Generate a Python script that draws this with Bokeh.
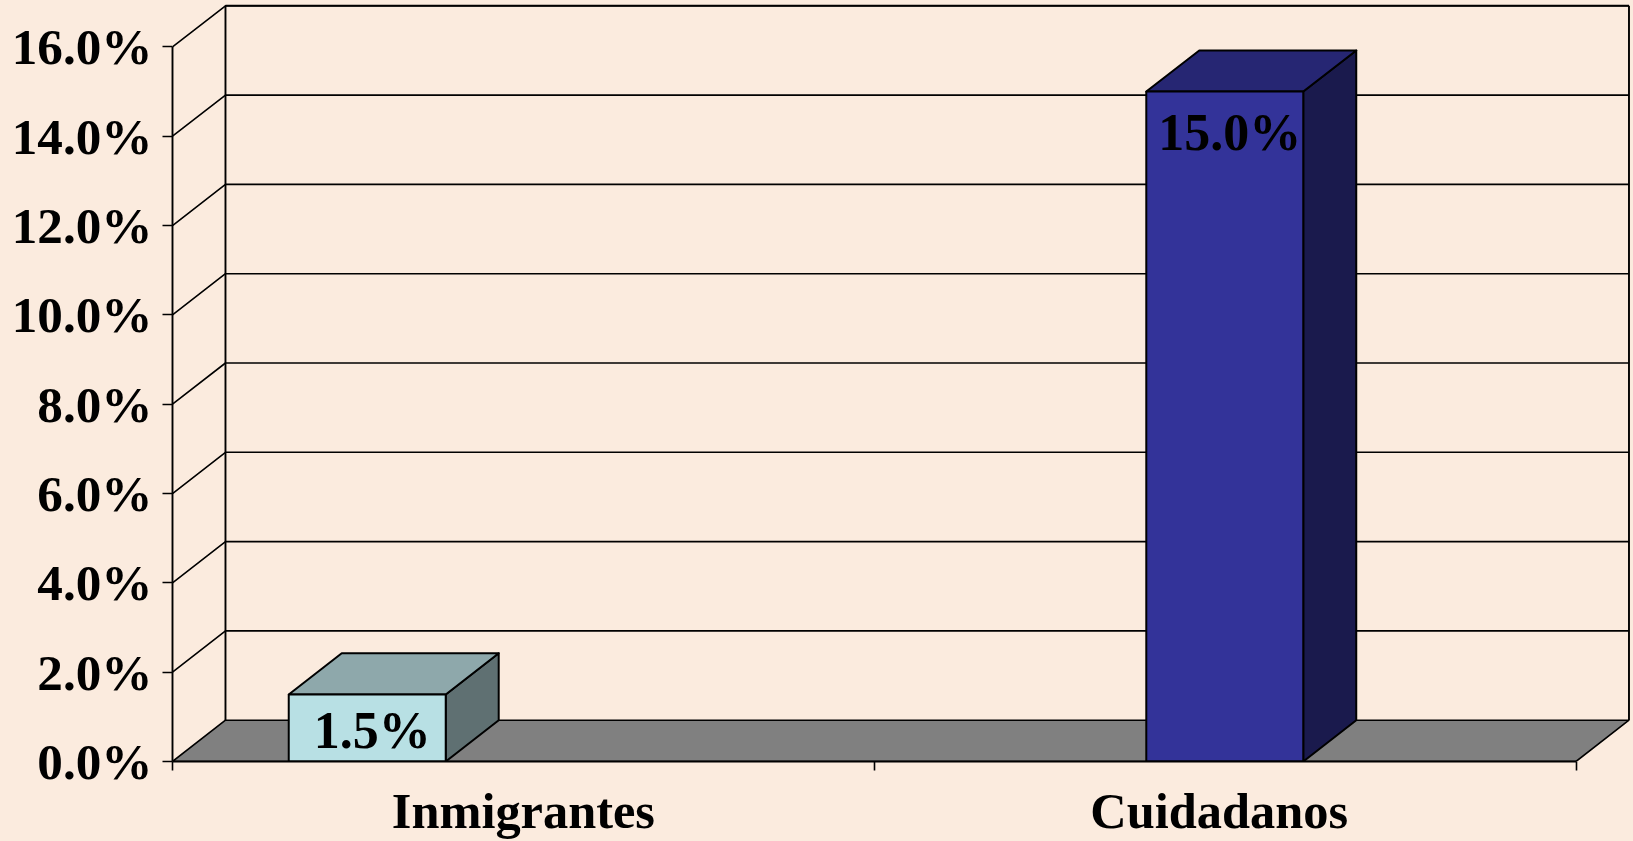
from bokeh.plotting import figure
from bokeh.models import Range1d, FixedTicker, PrintfTickFormatter, ColumnDataSource
from bokeh.core.properties import value
from bokeh.embed import file_html
from bokeh.resources import INLINE

# ---- data ----
categories = ["Inmigrantes", "Cuidadanos"]
label_ticks = [0.5, 1.4915]
bar_values = [1.5, 15.0]
bar_labels = ["1.5%", "15.0%"]
y_ticks = [0, 2, 4, 6, 8, 10, 12, 14, 16]

# ---- style / geometry ----
BG = "#FBEBDE"
FONT = "Liberation Serif"
front_col = ["#B8E0E4", "#333399"]
top_col = ["#8EA8AB", "#262673"]
side_col = ["#5F7072", "#1A1A4D"]
bar_centers = [0.2775, 1.4995]
bar_w = 0.2237
DX, DY, K = 0.0755, 0.925, 0.9997   # oblique projection of the chart's depth


def bx(x):
    return x + DX


def by(v):
    return DY + v * K


p = figure(width=1633, height=841, output_backend="svg", toolbar_location=None,
           x_range=Range1d(0, (1633 - 172) / 701.75),
           y_range=Range1d(0, 762 / 44.72),
           min_border_left=172, min_border_right=0, min_border_top=0, min_border_bottom=79,
           background_fill_color=BG, border_fill_color=BG, outline_line_color=None)
p.grid.visible = False

# floor
p.patch([0, 2, bx(2), bx(0)], [0, 0, by(0), by(0)], fill_color="#808080", line_color="#000000", line_width=1.6)

# wall lines
xs, ys = [], []
for v in y_ticks[1:]:
    xs.append([0, bx(0), bx(2)])
    ys.append([v, by(v), by(v)])
p.multi_line(xs, ys, line_color="#000000", line_width=1.6)
p.multi_line([[bx(0), bx(0)], [bx(2), bx(2)]], [[by(0), by(16)], [by(0), by(16)]],
             line_color="#000000", line_width=1.9)
p.line([bx(0), bx(2)], [by(16), by(16)], line_color="#000000", line_width=1.9)

# bars
for c, v, f, t, s in zip(bar_centers, bar_values, front_col, top_col, side_col):
    l, r = c - bar_w / 2, c + bar_w / 2
    p.patch([r, bx(r), bx(r), r], [0, by(0), by(v), v], fill_color=s, line_color="#000000", line_width=2,
            line_join="round")
    p.patch([l, r, bx(r), bx(l)], [v, v, by(v), by(v)], fill_color=t, line_color="#000000", line_width=2,
            line_join="round")
    p.quad(left=[l], right=[r], bottom=[0], top=[v], fill_color=f, line_color="#000000", line_width=2)

# data labels
src = ColumnDataSource(dict(x=bar_centers, y=bar_values, t=bar_labels, dx=[5, 5], dy=[36, 41]))
p.text(x="x", y="y", text="t", source=src, x_offset="dx", y_offset="dy", text_align="center",
       text_baseline="middle", text_font=value(FONT), text_font_style="bold", text_font_size="52px",
       text_color="#000000")

# axes
ya = p.yaxis[0]
ya.ticker = FixedTicker(ticks=y_ticks)
ya.formatter = PrintfTickFormatter(format="%.1f%%")
ya.bounds = (0, 16)
ya.major_tick_out, ya.major_tick_in = 10, 0
ya.minor_tick_line_color = None
ya.axis_line_width = 1.9
ya.major_tick_line_width = 1.6
ya.major_label_standoff = 10
ya.major_label_text_font = FONT
ya.major_label_text_font_style = "bold"
ya.major_label_text_font_size = "51.2px"
ya.major_label_text_color = "#000000"

xa = p.xaxis[0]
xa.ticker = FixedTicker(ticks=label_ticks, minor_ticks=[0, 1, 2])
xa.major_label_overrides = dict(zip(label_ticks, categories))
xa.bounds = (0, 2)
xa.major_tick_line_color = None
xa.major_tick_out = 0
xa.major_tick_in = 0
xa.minor_tick_out, xa.minor_tick_in = 9, 0
xa.minor_tick_line_width = 1.6
xa.axis_line_width = 1.9
xa.major_label_standoff = 12
xa.major_label_text_font = FONT
xa.major_label_text_font_style = "bold"
xa.major_label_text_font_size = "50.4px"
xa.major_label_text_color = "#000000"

html = file_html(p, INLINE)
html = html.replace("</head>", "<style>html,body{margin:0;background:%s;overflow:hidden}</style></head>" % BG, 1)
open("out.html", "w").write(html)
